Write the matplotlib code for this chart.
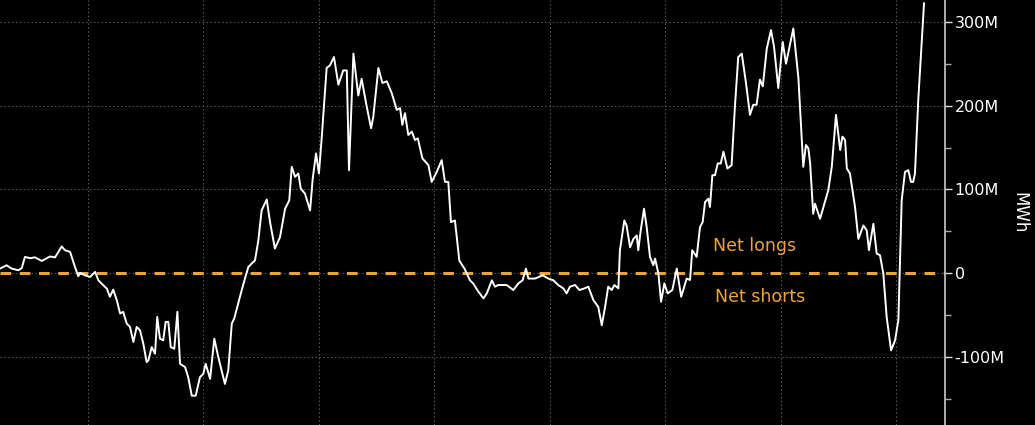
import pandas as pd
import numpy as np
import matplotlib.pyplot as plt
import matplotlib.dates as mdates
from matplotlib.ticker import FuncFormatter, MultipleLocator

# weeks since start of series, net position in million MWh
weeks = [0.0, 3.0, 5.3, 8.3, 9.8, 11.3, 13.6, 15.8, 18.9, 22.6, 24.9, 27.9, 29.4, 31.7,
         33.9, 35.4, 36.2, 38.4, 40.7, 43.0, 44.5, 46.7, 48.3, 49.7, 51.2, 52.8, 54.3,
         55.7, 57.3, 58.8, 60.3, 61.8, 63.3, 64.8, 66.3, 67.1, 68.6, 70.1, 71.1, 72.3,
         73.8, 74.9, 76.1, 77.2, 78.8, 80.2, 81.4, 83.7, 85.1, 86.7, 88.5, 90.4, 91.9,
         93.0, 95.0, 96.9, 98.7, 101.7, 103.2, 104.8, 105.9, 109.3, 110.8, 112.3, 113.8,
         115.3, 116.8, 118.3, 120.6, 122.1, 124.3, 126.6, 128.9, 130.8, 131.9, 133.4,
         134.9, 136.0, 137.9, 140.2, 141.4, 142.9, 144.2, 145.5, 147.7, 149.2, 151.0,
         153.0, 155.2, 156.8, 157.8, 159.8, 162.0, 163.5, 165.8, 167.8, 168.8, 171.1,
         172.9, 174.9, 177.1, 179.4, 180.9, 181.9, 183.1, 184.6, 186.2, 187.6, 188.9,
         191.0, 193.7, 195.2, 197.5, 199.7, 201.2, 202.7, 203.9, 205.7, 207.7, 210.0,
         212.5, 214.0, 216.3, 218.6, 220.1, 222.4, 223.8, 225.3, 229.1, 232.1, 234.4,
         236.3, 237.8, 238.9, 241.9, 245.4, 247.9, 250.2, 252.4, 254.7, 256.2, 257.7,
         260.0, 262.0, 264.3, 266.0, 268.3, 270.5, 272.1, 273.6, 275.0, 276.6, 277.8,
         279.6, 280.3, 282.3, 283.3, 284.9, 286.4, 287.9, 288.6, 289.7, 291.2, 292.4,
         293.9, 295.4, 296.2, 297.7, 298.9, 300.4, 301.9, 304.0, 306.0, 308.0, 310.5,
         312.0, 313.0, 315.0, 316.5, 317.7, 318.8, 320.3, 321.0, 322.1, 323.3, 324.5,
         325.9, 327.1, 328.9, 330.8, 332.3, 333.8, 335.4, 337.3, 339.1, 340.6, 342.1,
         343.6, 344.9, 346.7, 348.6, 350.0, 351.9, 353.9, 355.4, 358.7, 361.0, 363.2,
         364.4, 365.5, 366.3, 367.7, 368.5, 370.8, 373.0, 374.5, 376.1, 378.0, 379.9,
         380.9, 382.1, 382.9, 384.3, 386.6, 388.1, 390.4, 391.9, 392.9, 394.9, 396.4,
         397.9, 399.4, 400.9, 402.9, 404.7, 406.2, 407.7, 409.2, 410.7, 411.9, 412.9,
         413.7, 415.2, 417.8]
net_mwh = [5.6, 9.5, 5.6, 3.6, 6, 19.5, 18, 19, 14.7, 20, 19, 32, 27.5, 25.5,
           7.5, -3.6, 0.4, -2.4, -4.4, 1.6, -8.4, -14.3, -18.3, -28, -19.5, -32, -48,
           -46, -60, -64, -82, -64, -68, -84, -106, -104, -88, -96, -52, -78,
           -80, -58, -58, -88, -90, -46, -108, -112, -124, -146, -146, -124, -120,
           -108, -126, -78, -100, -132, -116, -60, -54, -20, -6, 7.5, 11.6,
           15.5, 39, 75, 88, 61, 29.5, 43, 77, 87, 127, 115,
           119, 101, 95, 75, 113, 143, 119, 163, 245, 248, 258,
           225, 242, 242, 123, 262, 212, 232, 199, 173, 187, 245,
           227, 229, 215, 195, 197, 177, 191, 165, 169, 159, 161,
           137, 129, 109, 121, 135, 109, 109, 61, 63, 15, 5.6,
           -8.4, -12.3, -22, -30, -24, -8.4, -16, -14, -14, -20, -12,
           -8.4, 5.6, -6.3, -6.3, -2.4, -6.3, -8.4, -14, -18, -24, -16,
           -14, -20, -18, -16, -32, -40, -62, -40, -16, -20, -14,
           -18, 27.5, 63, 57, 31, 41, 45, 27.5, 51, 77, 55,
           19.5, 9.6, 17.5, -0.4, -34, -12, -24, -20, 5.6, -28, -6.3,
           -8, 27.5, 19.5, 55, 61, 85, 89, 79, 117, 117, 131,
           131, 145, 125, 129, 199, 258, 262, 227, 189, 201, 201,
           231, 223, 268, 290, 270, 221, 276, 250, 292, 233, 127,
           153, 149, 131, 71, 83, 65, 85, 99, 127, 189, 147,
           163, 159, 125, 119, 79, 41, 57, 51, 27.5, 59, 23.5,
           21.5, -0.4, -52, -92, -80, -56, 87, 121, 123, 109, 109,
           119, 207, 322]

start = pd.Timestamp("2014-03-28")
dates = start + pd.to_timedelta(np.array(weeks) * 7, unit="D")
values = np.array(net_mwh) * 1e6

orange = "#eba43a"

fig = plt.figure(figsize=(10.35, 4.25), dpi=100, facecolor="black")
ax = fig.add_axes([0, 0, 945 / 1035, 1])
ax.set_facecolor("black")

ax.plot(dates, values, color="white", lw=1.4, zorder=3)
ax.axhline(0, color=orange, lw=2.2, ls=(0, (3.5, 2.8)), zorder=2)

ax.set_xlim(start, start + pd.Timedelta(days=2991))
ax.set_ylim(-181e6, 326e6)

ax.xaxis.set_major_locator(mdates.YearLocator())
ax.tick_params(axis="x", bottom=False, labelbottom=False)
ax.grid(True, which="major", color="#5e5e5e", ls=(0, (1.5, 2.5)), lw=0.7)

ax.yaxis.tick_right()
ax.yaxis.set_label_position("right")
ax.yaxis.set_major_locator(MultipleLocator(100e6))
ax.yaxis.set_minor_locator(MultipleLocator(50e6))
ax.yaxis.set_major_formatter(FuncFormatter(lambda v, p: "0" if v == 0 else f"{v/1e6:.0f}M"))
ax.tick_params(axis="y", which="major", colors="#dddddd", labelcolor="white",
               labelsize=11.5, length=5, width=1, pad=2)
ax.tick_params(axis="y", which="minor", colors="#aaaaaa", length=4, width=1)
ax.set_ylabel("MWh", color="white", fontsize=12, rotation=270, labelpad=17)

for side in ["top", "left", "bottom"]:
    ax.spines[side].set_visible(False)
ax.spines["right"].set_color("#cccccc")
ax.spines["right"].set_linewidth(1.2)

ax.text(start + pd.Timedelta(weeks=322.5), 32e6, "Net longs", color=orange,
        fontsize=12.5, va="center", ha="left")
ax.text(start + pd.Timedelta(weeks=323.3), -28e6, "Net shorts", color=orange,
        fontsize=12.5, va="center", ha="left")

fig.savefig("out.png", dpi=100, facecolor="black")
